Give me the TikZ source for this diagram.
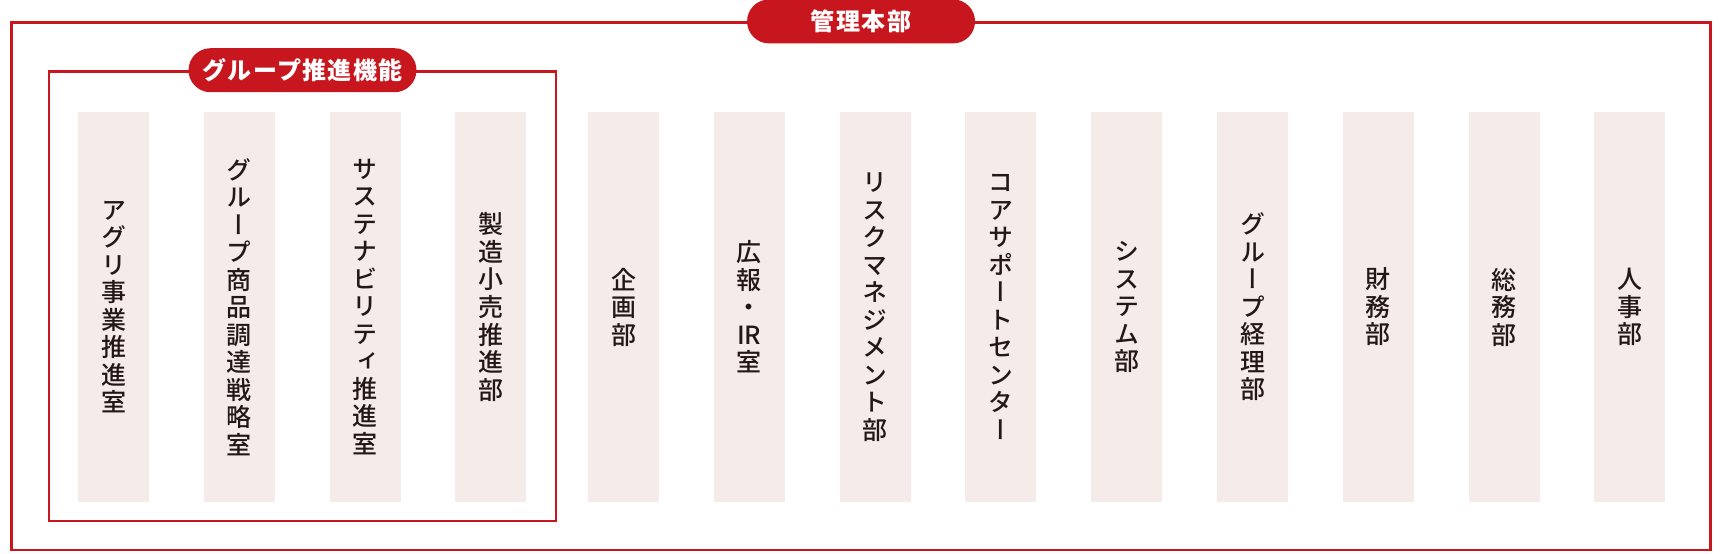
\documentclass[tikz,border=0pt]{standalone}
\usepackage{fontspec}
\setmainfont{Noto Sans CJK JP}
\IfFontExistsTF{Noto Sans CJK JP Medium}
	{\newfontfamily\tatefont[RawFeature=+vert]{Noto Sans CJK JP Medium}}
	{\newfontfamily\tatefont[RawFeature=+vert]{Noto Sans CJK JP}}
\newfontfamily\pillfont[LetterSpace=6]{Noto Sans CJK JP}
\usetikzlibrary{positioning}
\usetikzlibrary{fit}
\definecolor{kred}{HTML}{C8161E}
\definecolor{pale}{HTML}{F5ECEA}
\definecolor{ink}{HTML}{231815}

\begin{document}
\begin{tikzpicture}[x=0.5pt,y=-0.5pt,
	node distance=27.4pt,
	dept/.style={rectangle,fill=pale,text=ink,align=center,inner sep=0pt,outer sep=0pt,
		minimum width=35.5pt,minimum height=195pt,
		font=\tatefont\fontsize{12.5pt}{13.75pt}\selectfont},
	frame/.style={rectangle,draw=kred,line width=1.3pt,inner sep=0pt},
	pill/.style={rectangle,rounded corners=11pt,fill=kred,text=white,inner sep=0pt,
		minimum width=114pt,minimum height=22pt,
		font=\pillfont\bfseries\fontsize{12pt}{14pt}\selectfont}
	]
	\useasboundingbox (0,0) rectangle (1722,553);

	\node [dept] (agri)		at (113.5,307)		{ア\\グ\\リ\\事\\業\\推\\進\\室};
	\node [dept] (sourcing)		[right=of agri]		{グ\\ル\\ー\\プ\\商\\品\\調\\達\\戦\\略\\室};
	\node [dept] (sustain)		[right=of sourcing]	{サ\\ス\\テ\\ナ\\ビ\\リ\\テ\\ィ\\推\\進\\室};
	\node [dept] (retail)		[right=of sustain]	{製\\造\\小\\売\\推\\進\\部};
	\node [dept] (planning)		[right=30.8pt of retail]	{企\\画\\部};
	\node [dept] (pr)		[right=of planning]	{広\\報\\・\\IR\\室};
	\node [dept] (risk)		[right=of pr]		{リ\\ス\\ク\\マ\\ネ\\ジ\\メ\\ン\\ト\\部};
	\node [dept] (core)		[right=of risk]		{コ\\ア\\サ\\ポ\\ー\\ト\\セ\\ン\\タ\\ー};
	\node [dept] (system)		[right=of core]		{シ\\ス\\テ\\ム\\部};
	\node [dept] (accounting)	[right=of system]	{グ\\ル\\ー\\プ\\経\\理\\部};
	\node [dept] (finance)		[right=of accounting]	{財\\務\\部};
	\node [dept] (general)		[right=of finance]	{総\\務\\部};
	\node [dept] (hr)		[right=of general]	{人\\事\\部};

	% frames
	\node [frame, fit={([xshift=-14.5pt,yshift=20.25pt]agri.north west) ([xshift=14.8pt,yshift=-9.5pt]retail.south east)}] (group) {};
	\node [frame, fit={([xshift=-33.15pt,yshift=44.65pt]agri.north west) ([xshift=22.5pt,yshift=-24pt]hr.south east)}] (hq) {};

	\node [pill] (hqlabel)		at (hq.north)		{管理本部};
	\node [pill] (grouplabel)	at (group.north)	{グループ推進機能};

\end{tikzpicture}
\end{document}
